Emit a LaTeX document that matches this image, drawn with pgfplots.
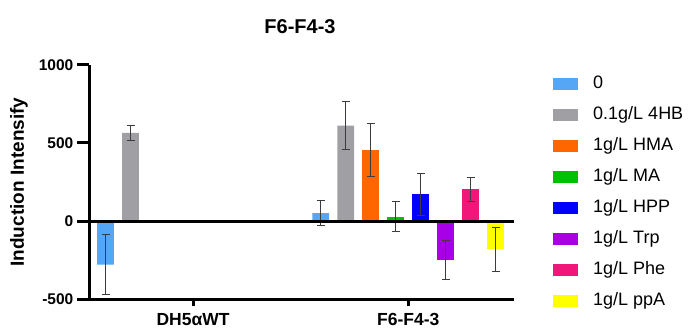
\documentclass[border=0pt]{standalone}
\usepackage{fontspec}
\setmainfont{Liberation Sans}
\usepackage{pgfplots}
\pgfplotsset{compat=1.18}
\definecolor{c0}{RGB}{85,166,245}
\definecolor{c1}{RGB}{160,160,164}
\definecolor{c2}{RGB}{255,102,0}
\definecolor{c3}{RGB}{0,192,0}
\definecolor{c4}{RGB}{0,0,255}
\definecolor{c5}{RGB}{168,0,230}
\definecolor{c6}{RGB}{240,22,122}
\definecolor{c7}{RGB}{255,255,0}
\definecolor{errc}{RGB}{60,60,60}
\begin{document}
\begin{tikzpicture}[x=1pt,y=1pt]
\useasboundingbox (0,0) rectangle (691,329);
\begin{axis}[
  at={(89.5pt,29.5pt)}, anchor=south west,
  scale only axis, width=424.5pt, height=234.8pt,
  xmin=-0.481, xmax=1.491, ymin=-500, ymax=1000,
  axis lines=left,
  axis line style={line width=3pt,-},
  tick style={line width=3pt, black},
  tick align=outside,
  major tick length=12pt,
  xtick style={/pgfplots/major tick length=7pt},
  ytick={-500,0,500,1000},
  xtick={0,1},
  xticklabels={DH5αWT, F6-F4-3},
  /pgf/number format/assume math mode=true,
  /pgf/number format/1000 sep={},
  yticklabel style={font=\bfseries\fontsize{15.5}{16}\selectfont, inner sep=0pt, xshift=-4pt},
  xticklabel style={font=\bfseries\fontsize{17.5}{18}\selectfont, inner sep=0pt, yshift=-2pt},
  title={F6-F4-3},
  title style={font=\bfseries\fontsize{20}{20}\selectfont, at={(axis description cs:0.4959,1.135)}, anchor=center},
  ylabel={Induction Intensify},
  ylabel style={font=\bfseries\fontsize{19}{19}\selectfont, at={(axis description cs:-0.166,0.5)}, anchor=center},
  ybar=8.3pt, bar width=16.7pt,
  error bars/y dir=both, error bars/y explicit,
  error bars/error bar style={line width=1pt, color=errc},
  error bars/error mark options={rotate=90, line width=1pt, color=errc, mark size=4pt},
  legend image code/.code={\fill[#1] (0pt,-6pt) rectangle (25pt,6pt);},
  legend cell align=left,
  legend style={at={(axis description cs:1.0919,0.9544)}, anchor=north west, draw=none, fill=none,
    inner sep=0pt, row sep=14pt, column sep=15pt, font=\fontsize{18}{18}\selectfont,
    nodes={inner sep=0pt, text height=13pt, text depth=4pt}},
]
\addplot[fill=c0, draw=none] coordinates {(0,-277) +- (0,190) (1,52) +- (0,80)};
\addplot[fill=c1, draw=none] coordinates {(0,565) +- (0,48) (1,610) +- (0,153)};
\addplot[fill=c2, draw=none] coordinates {(1,455) +- (0,172)};
\addplot[fill=c3, draw=none] coordinates {(1,30) +- (0,94)};
\addplot[fill=c4, draw=none] coordinates {(1,172) +- (0,133)};
\addplot[fill=c5, draw=none] coordinates {(1,-247) +- (0,127)};
\addplot[fill=c6, draw=none] coordinates {(1,203) +- (0,77)};
\addplot[fill=c7, draw=none] coordinates {(1,-180) +- (0,140)};
\legend{0, 0.1g/L 4HB, 1g/L HMA, 1g/L MA, 1g/L HPP, 1g/L Trp, 1g/L Phe, 1g/L ppA}
\draw[line width=3pt] (axis cs:-0.481,0) -- (axis cs:1.491,0);
\end{axis}
\end{tikzpicture}
\end{document}
